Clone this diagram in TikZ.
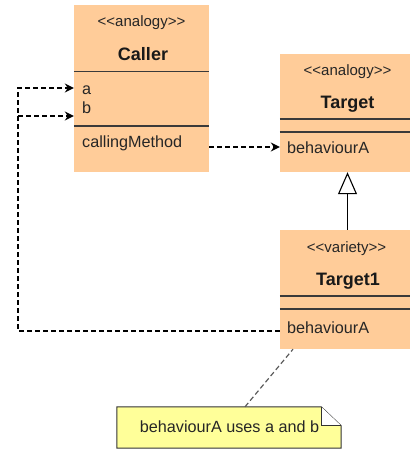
\documentclass[tikz,border=0pt]{standalone}
\usepackage{fontspec}
\setmainfont{Liberation Sans}
\usetikzlibrary{arrows.meta,calc}
\definecolor{classfill}{HTML}{FFCC99}
\definecolor{notefill}{HTML}{FFFF99}
\definecolor{divcol}{HTML}{3A3A3A}
\begin{document}
\begin{tikzpicture}[x=1bp,y=-1bp,
  classbox/.style={rectangle,fill=classfill,draw=none,minimum width=135bp,inner sep=0pt},
  divider/.style={draw=divcol,line width=1.2bp},
  stereo/.style={anchor=base,inner sep=0pt,font=\fontsize{15bp}{18bp}\selectfont,text=black!85},
  cname/.style={anchor=base,inner sep=0pt,font=\fontsize{18bp}{21bp}\selectfont\bfseries,text=black!90},
  member/.style={anchor=base west,inner sep=0pt,font=\fontsize{16.2bp}{19bp}\selectfont,text=black!85},
  dep/.style={draw=black,line width=1.2bp,dash pattern=on 5bp off 3bp},
  deptip/.style={-{Stealth[length=9bp,width=9bp,inset=3bp]}},
  inherit/.style={draw=black,line width=1.1bp,-{Triangle[open,length=22bp,width=19bp,fill=white]}},
  notelink/.style={draw=black!65,line width=1.2bp,dash pattern=on 5bp off 3bp}]
\useasboundingbox (0,0) rectangle (409,450);
% class boxes
\node[classbox,minimum height=167bp] (caller) at (141.5,88.5) {};
\node[classbox,minimum height=118bp] (target) at (347.5,113) {};
\node[classbox,minimum height=119bp] (target1) at (347.5,289.5) {};
% dividers
\draw[divider] (caller.west |- 0,71.5) -- (caller.east |- 0,71.5);
\draw[divider] (caller.west |- 0,126) -- (caller.east |- 0,126);
\draw[divider] (target.west |- 0,119) -- (target.east |- 0,119);
\draw[divider] (target.west |- 0,132) -- (target.east |- 0,132);
\draw[divider] (target1.west |- 0,296) -- (target1.east |- 0,296);
\draw[divider] (target1.west |- 0,309) -- (target1.east |- 0,309);
% texts
\node[stereo] (cst) at (141.5,27) {<{}<analogy>{}>};
\node[cname] (cnm) at (143,61) {Caller};
\node[member] (ma) at (82,95) {a};
\node[member] (mb) at (82,114) {b};
\node[member] (mcm) at (82,148) {callingMethod};
\node[stereo] (tst) at (347.5,76) {<{}<analogy>{}>};
\node[cname] (tnm) at (347.5,109) {Target};
\node[member] (tba) at (287,154) {behaviourA};
\node[stereo] (t1st) at (346.5,252) {<{}<variety>{}>};
\node[cname] (t1nm) at (348,285) {Target1};
\node[member] (t1ba) at (287,333) {behaviourA};
% note
\node[rectangle,minimum width=224bp,minimum height=41bp,inner sep=0pt] (note) at (229,427.5) {};
\coordinate (foldtop) at ($(note.north east)+(-20,0)$);
\coordinate (foldside) at ($(note.north east)+(0,19)$);
\coordinate (foldin) at ($(note.north east)+(-20,19)$);
\draw[fill=notefill,draw=black!80,line width=1bp] (note.north west) -- (foldtop) -- (foldside) -- (note.south east) -- (note.south west) -- cycle;
\draw[fill=white,draw=black!80,line width=1bp] (foldtop) -- (foldin) -- (foldside);
\node[anchor=base,inner sep=0pt,font=\fontsize{16.2bp}{19bp}\selectfont,text=black!85] (notetext) at (229.5,432) {behaviourA uses a and b};
% connectors
\coordinate (lc1) at (18,331);
\coordinate (lc2) at (18,88);
\coordinate (lc3) at (18,116);
\draw[dep,deptip] (target1.west |- lc1) -- (lc1) -- (lc2) -- (caller.west |- lc2);
\draw[dep,deptip] (lc3) -- (caller.west |- lc3);
\coordinate (cmrow) at (0,147);
\draw[dep,deptip] (caller.east |- cmrow) -- (target.west |- cmrow);
\draw[inherit] (target1.north) -- (target.south);
\coordinate (nl) at (245,0);
\coordinate (tl) at (293,0);
\draw[notelink] (note.north -| nl) -- (target1.south -| tl);
\end{tikzpicture}
\end{document}
